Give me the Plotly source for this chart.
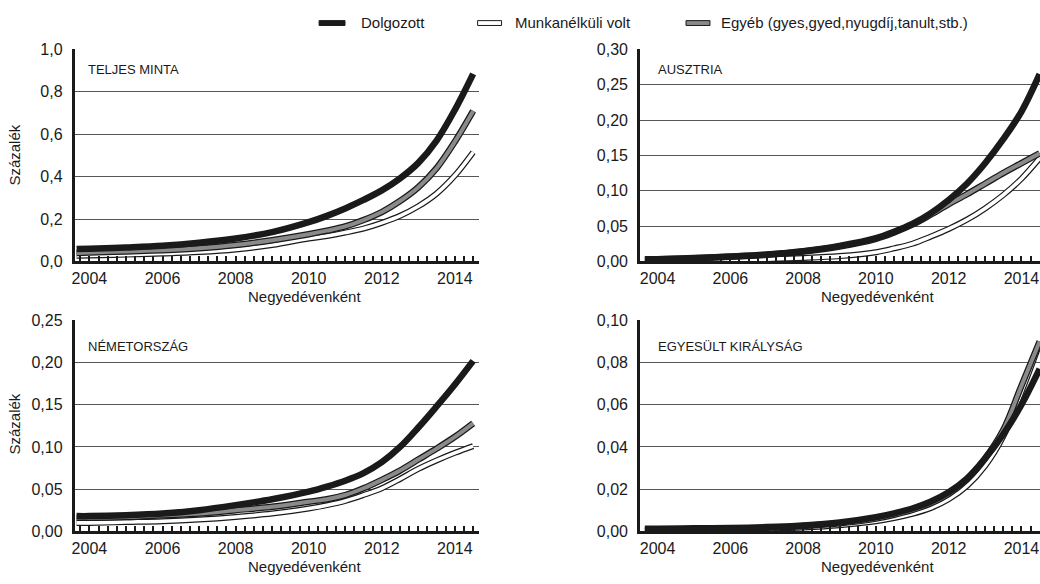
import plotly.graph_objects as go

# ---- data ----
idopont = [2003.65, 2004, 2005, 2006, 2007, 2008, 2009, 2010, 2010.5, 2011, 2011.5,
           2012, 2012.5, 2013, 2013.5, 2014, 2014.5]
ev_cimkek = ["2004", "2006", "2008", "2010", "2012", "2014"]
ev_ertekek = [2004, 2006, 2008, 2010, 2012, 2014]

sorozat_nevek = ["Dolgozott", "Munkanélküli volt", "Egyéb (gyes,gyed,nyugdíj,tanult,stb.)"]
panel_cimek = ["TELJES MINTA", "AUSZTRIA", "NÉMETORSZÁG", "EGYESÜLT KIRÁLYSÁG"]

teljes_dolgozott = [0.058, 0.060, 0.066, 0.074, 0.088, 0.108, 0.138, 0.185, 0.215, 0.250, 0.290,
                    0.335, 0.392, 0.465, 0.570, 0.715, 0.885]
teljes_munkanelkuli = [0.027, 0.028, 0.032, 0.037, 0.044, 0.056, 0.077, 0.108, 0.120, 0.136, 0.155,
                       0.182, 0.215, 0.260, 0.320, 0.405, 0.515]
teljes_egyeb = [0.040, 0.042, 0.047, 0.053, 0.062, 0.077, 0.100, 0.128, 0.145, 0.165, 0.195,
                0.233, 0.285, 0.350, 0.440, 0.565, 0.710]

ausztria_dolgozott = [0.0030, 0.0032, 0.0048, 0.0070, 0.0098, 0.0145, 0.022, 0.033, 0.042, 0.053, 0.068,
                      0.087, 0.110, 0.139, 0.173, 0.212, 0.265]
ausztria_munkanelkuli = [0.0008, 0.0010, 0.0015, 0.0022, 0.0032, 0.0048, 0.0075, 0.013, 0.0185, 0.025, 0.035,
                         0.046, 0.059, 0.075, 0.094, 0.117, 0.146]
ausztria_egyeb = [0.0028, 0.0030, 0.0045, 0.0067, 0.0094, 0.014, 0.021, 0.032, 0.041, 0.052, 0.066,
                  0.081, 0.095, 0.110, 0.125, 0.139, 0.153]

nemet_dolgozott = [0.018, 0.018, 0.019, 0.021, 0.025, 0.031, 0.038, 0.047, 0.053, 0.060, 0.069,
                   0.082, 0.100, 0.123, 0.148, 0.174, 0.202]
nemet_munkanelkuli = [0.010, 0.010, 0.011, 0.012, 0.014, 0.017, 0.021, 0.027, 0.031, 0.036, 0.043,
                      0.051, 0.062, 0.074, 0.084, 0.093, 0.101]
nemet_egyeb = [0.016, 0.016, 0.017, 0.019, 0.021, 0.025, 0.029, 0.035, 0.038, 0.043, 0.051,
               0.061, 0.072, 0.085, 0.098, 0.112, 0.128]

uk_dolgozott = [0.0012, 0.0012, 0.0014, 0.0016, 0.0020, 0.0028, 0.0042, 0.0067, 0.0085, 0.0108, 0.0140,
                0.0185, 0.0250, 0.0345, 0.0460, 0.0600, 0.0770]
uk_munkanelkuli = [0.0004, 0.0005, 0.0006, 0.0008, 0.0012, 0.0018, 0.0029, 0.0048, 0.0063, 0.0083, 0.0110,
                   0.0152, 0.0215, 0.0310, 0.0450, 0.0660, 0.0890]
uk_egyeb = [0.0008, 0.0009, 0.0010, 0.0013, 0.0017, 0.0025, 0.0038, 0.0060, 0.0078, 0.0101, 0.0132,
            0.0177, 0.0245, 0.0345, 0.0480, 0.0690, 0.0900]

y_maxok = [1.0, 0.30, 0.25, 0.10]
y_lepesek = [0.2, 0.05, 0.05, 0.02]
y_formatumok = [".1f", ".2f", ".2f", ".2f"]

panelek = [
    (teljes_dolgozott, teljes_munkanelkuli, teljes_egyeb),
    (ausztria_dolgozott, ausztria_munkanelkuli, ausztria_egyeb),
    (nemet_dolgozott, nemet_munkanelkuli, nemet_egyeb),
    (uk_dolgozott, uk_munkanelkuli, uk_egyeb),
]

# ---- styling / layout ----
W, H = 1040, 584
FONT = "Liberation Sans, Arial, sans-serif"
INK = "#1a1a1a"
GRAY = "#8a8a8a"

def px_x(p):
    return p / W

def px_y(p):
    return 1 - p / H

x_doms = [(72, 477), (639, 1040), (72, 477), (639, 1040)]
y_doms = [(42.7, 261), (42.7, 261), (321.7, 539), (321.7, 539)]
x_ranges = [[2003.6, 2014.65], [2003.52, 2014.51], [2003.6, 2014.65], [2003.52, 2014.51]]

fig = go.Figure()

for i, (dolg, mun, egy) in enumerate(panelek):
    xa = "x" if i == 0 else f"x{i+1}"
    ya = "y" if i == 0 else f"y{i+1}"
    common = dict(x=idopont, xaxis=xa, yaxis=ya, mode="lines", showlegend=False, hoverinfo="skip")
    ln = dict(shape="spline", smoothing=1.0)
    # Munkanélküli volt: white line with black outline
    fig.add_trace(go.Scatter(y=mun, line=dict(color=INK, width=6, **ln), **common))
    fig.add_trace(go.Scatter(y=mun, name=sorozat_nevek[1], line=dict(color="white", width=3.6, **ln), **common))
    # Egyéb: gray line with black outline
    fig.add_trace(go.Scatter(y=egy, line=dict(color=INK, width=6.5, **ln), **common))
    fig.add_trace(go.Scatter(y=egy, name=sorozat_nevek[2], line=dict(color=GRAY, width=4, **ln), **common))
    # Dolgozott: thick black line
    fig.add_trace(go.Scatter(y=dolg, name=sorozat_nevek[0], line=dict(color=INK, width=6.5, **ln), **common))

    xkey = "xaxis" if i == 0 else f"xaxis{i+1}"
    ykey = "yaxis" if i == 0 else f"yaxis{i+1}"
    fig.layout[xkey] = dict(
        domain=[px_x(x_doms[i][0]), px_x(x_doms[i][1])],
        range=x_ranges[i], anchor=ya,
        showgrid=False, zeroline=False,
        showline=True, linecolor=INK, linewidth=3,
        tickmode="array", tickvals=ev_ertekek, ticktext=ev_cimkek,
        ticks="inside", ticklen=5, tickwidth=1.5, tickcolor=INK,
        minor=dict(dtick=0.25, tick0=2004, ticks="inside", ticklen=5, tickwidth=1.5, tickcolor=INK, showgrid=False),
        tickfont=dict(family=FONT, size=16, color=INK),
        ticklabeloverflow="allow",
        fixedrange=True,
    )
    fig.layout[ykey] = dict(
        domain=[px_y(y_doms[i][1]), px_y(y_doms[i][0])],
        range=[0, y_maxok[i]], anchor=xa,
        dtick=y_lepesek[i], tick0=0, tickformat=y_formatumok[i],
        showgrid=True, gridcolor="#555555", gridwidth=1,
        zeroline=False, showline=True, linecolor=INK, linewidth=3,
        ticks="", ticklabelstandoff=6,
        tickfont=dict(family=FONT, size=16, color=INK),
        fixedrange=True,
    )

annotations = []
# panel titles
title_pos = [(83, 63), (655, 63), (83, 349), (655, 349)]
for t, (ax, ay) in zip(panel_cimek, title_pos):
    annotations.append(dict(text=t, x=px_x(ax), y=px_y(ay), xref="paper", yref="paper",
                            xanchor="left", yanchor="middle", showarrow=False,
                            font=dict(family=FONT, size=13, color=INK)))
# x titles
for ax, ay in [(302, 297), (877, 297), (302, 575), (877, 575)]:
    annotations.append(dict(text="Negyedévenként", x=px_x(ax), y=px_y(ay), xref="paper", yref="paper",
                            xanchor="center", yanchor="middle", showarrow=False,
                            font=dict(family=FONT, size=15, color=INK)))
# y titles
for ay in [151, 428]:
    annotations.append(dict(text="Százalék", x=px_x(12), y=px_y(ay), xref="paper", yref="paper",
                            xanchor="center", yanchor="middle", showarrow=False, textangle=-90,
                            font=dict(family=FONT, size=15, color=INK)))

# manual legend
shapes = []
leg = [
    (sorozat_nevek[0], (317, 343), INK, INK, 357),
    (sorozat_nevek[1], (476, 500), "white", INK, 511),
    (sorozat_nevek[2], (685, 709), GRAY, INK, 718),
]
for name, (x0, x1), fill, edge, tx in leg:
    shapes.append(dict(type="rect", xref="paper", yref="paper",
                       x0=px_x(x0), x1=px_x(x1), y0=px_y(18), y1=px_y(13),
                       fillcolor=fill, line=dict(color=edge, width=1)))
    annotations.append(dict(text=name, x=px_x(tx), y=px_y(15), xref="paper", yref="paper",
                            xanchor="left", yanchor="middle", showarrow=False,
                            font=dict(family=FONT, size=15, color=INK)))

fig.update_layout(
    width=W, height=H, autosize=False,
    margin=dict(l=0, r=0, t=0, b=0),
    paper_bgcolor="white", plot_bgcolor="white",
    separators=",.",
    annotations=annotations, shapes=shapes,
    showlegend=False,
)

fig.write_html("out.html", config={"displayModeBar": False},
               post_script="document.body.style.margin='0px';")
